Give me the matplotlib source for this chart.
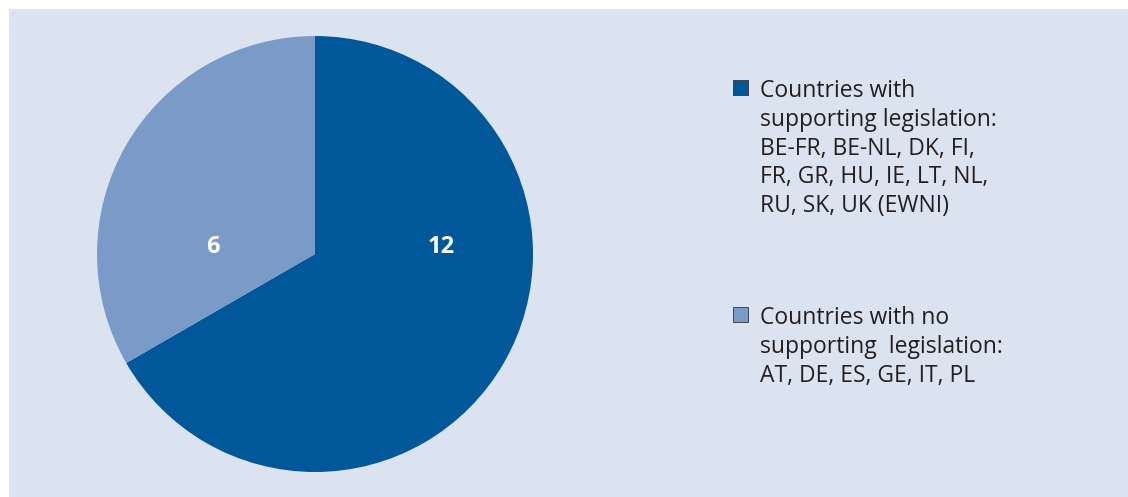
import matplotlib
matplotlib.use("Agg")
import matplotlib.pyplot as plt
from matplotlib.patches import Rectangle

# Data
categories = ["Countries with\nsupporting legislation:\nBE-FR, BE-NL, DK, FI,\nFR, GR, HU, IE, LT, NL,\nRU, SK, UK (EWNI)",
              "Countries with no\nsupporting  legislation:\nAT, DE, ES, GE, IT, PL"]
values = [12, 6]
colors = ["#00589b", "#7a9ac7"]
value_labels = ["12", "6"]

plt.rcParams['font.family'] = ['Open Sans', 'DejaVu Sans']

W, H = 1128, 497
fig = plt.figure(figsize=(W / 100, H / 100), dpi=100)
fig.patch.set_facecolor("white")
fig.patches.append(Rectangle((9 / W, -0.01), 1.0, 1.01 - 9 / H, transform=fig.transFigure,
                             facecolor="#dce3f0", edgecolor="none", zorder=-5))

ax = fig.add_axes([97 / W, (H - 472) / H, 436 / W, 436 / H])
ax.set_zorder(1)
ax.set_facecolor("none")
wedges, _ = ax.pie(values, colors=colors, startangle=90, counterclock=False, radius=1,
                   wedgeprops=dict(linewidth=0))
ax.set_xlim(-1, 1)
ax.set_ylim(-1, 1)
ax.set_aspect("equal")
ax.axis("off")

label_pos = [(0.578, 0.044), (-0.47, 0.044)]
for (x, y), t in zip(label_pos, value_labels):
    ax.text(x, y, t, color="white", fontsize=17, fontweight="bold", ha="center", va="center_baseline")

# Legend (manual)
legend_y = [80, 307]  # top of square in px
for yy, lab, c in zip(legend_y, categories, colors):
    fig.patches.append(Rectangle((733 / W, 1 - (yy + 15) / H), 15 / W, 15 / H,
                                 transform=fig.transFigure, facecolor=c,
                                 edgecolor="#333333", linewidth=0.6, zorder=3))
    fig.text(760 / W, 1 - (yy - 1) / H, lab, fontsize=16.5, color="#231f20",
             ha="left", va="top", linespacing=1.265, zorder=3)

fig.savefig("out.png", dpi=100, facecolor=fig.get_facecolor())
